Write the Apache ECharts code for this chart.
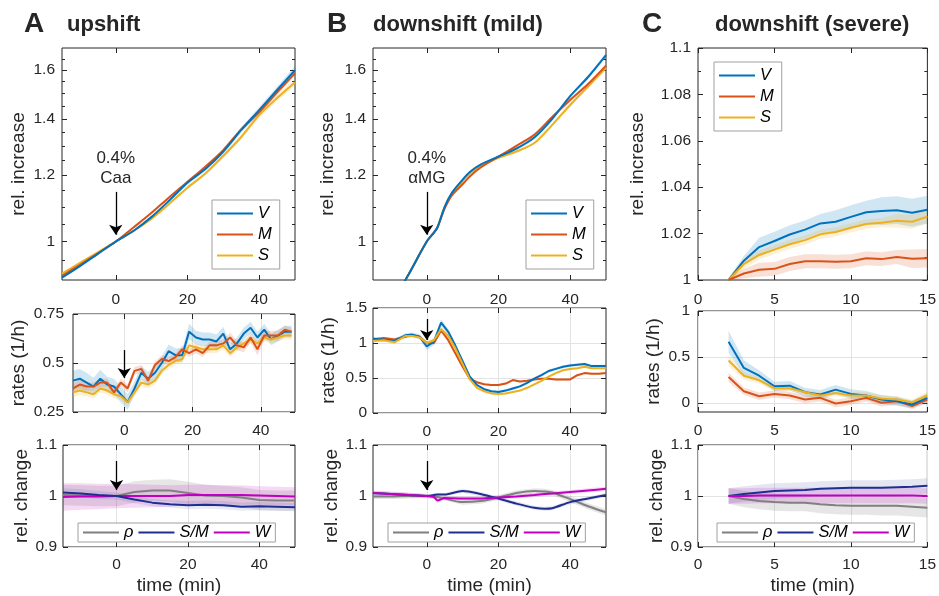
<!DOCTYPE html>
<html><head><meta charset="utf-8">
<script src="https://cdn.jsdelivr.net/npm/echarts/dist/echarts.min.js"></script>
<style>html,body{margin:0;padding:0;background:#fff}#c{width:939px;height:596px}</style>
</head><body><div id="c"></div><script>
const COL = {V:'#0072BD', M:'#D95319', S:'#EDB120', rho:'#808080', SM:'#1F2F8F', W:'#BF00BF'};
const FONT = '"Liberation Sans", Arial, sans-serif';
const TXT = '#262626';

// ---------- Panel A (upshift) ----------
const tA_top = [-15,-10,-5,0,5,10,15,20,25,30,35,40,45,50];
const A_top_V = [0.906,0.935,0.967,1.0,1.03,1.07,1.12,1.175,1.22,1.28,1.358,1.434,1.515,1.60];
const A_top_M = [0.91,0.938,0.968,1.0,1.04,1.082,1.13,1.178,1.228,1.285,1.36,1.425,1.505,1.587];
const A_top_S = [0.916,0.943,0.971,1.0,1.03,1.065,1.11,1.159,1.205,1.265,1.332,1.414,1.482,1.548];
const A_top_Vb = [0.003,0.003,0.002,0.001,0.002,0.003,0.004,0.005,0.006,0.008,0.010,0.012,0.015,0.018];
const A_top_Mb = [0.002,0.002,0.002,0.001,0.002,0.003,0.003,0.004,0.005,0.006,0.008,0.009,0.011,0.012];
const A_top_Sb = [0.003,0.003,0.002,0.001,0.002,0.003,0.004,0.005,0.006,0.008,0.009,0.011,0.013,0.015];

const tA_rate = [-15,-13,-11,-9,-7,-5,-3,-1,1,3,5,7,9,11,13,15,17,19,21,23,25,27,29,31,33,35,37,39,41,43,45,47,49];
const A_rate_V = [0.41,0.42,0.40,0.38,0.42,0.39,0.38,0.34,0.30,0.37,0.45,0.42,0.45,0.50,0.56,0.54,0.54,0.66,0.63,0.62,0.62,0.61,0.65,0.57,0.60,0.65,0.68,0.63,0.67,0.62,0.64,0.66,0.66];
const A_rate_M = [0.37,0.39,0.38,0.38,0.40,0.40,0.35,0.40,0.37,0.46,0.47,0.41,0.49,0.52,0.51,0.53,0.57,0.55,0.57,0.55,0.59,0.59,0.60,0.63,0.59,0.58,0.63,0.57,0.64,0.64,0.64,0.67,0.66];
const A_rate_S = [0.35,0.36,0.35,0.34,0.37,0.36,0.34,0.33,0.30,0.35,0.40,0.39,0.41,0.46,0.49,0.51,0.52,0.59,0.58,0.57,0.57,0.57,0.59,0.55,0.58,0.60,0.62,0.60,0.63,0.62,0.63,0.64,0.64];
const A_rate_Vb = [0.05,0.05,0.05,0.045,0.045,0.04,0.04,0.04,0.04,0.035,0.035,0.035,0.035,0.035,0.035,0.035,0.035,0.04,0.035,0.035,0.035,0.035,0.035,0.03,0.03,0.03,0.03,0.03,0.03,0.03,0.03,0.03,0.03];
const A_rate_Mb = [0.025,0.025,0.02,0.02,0.02,0.02,0.02,0.02,0.02,0.02,0.02,0.02,0.02,0.02,0.02,0.02,0.02,0.02,0.02,0.02,0.02,0.02,0.02,0.025,0.025,0.025,0.025,0.03,0.025,0.025,0.025,0.02,0.02];
const A_rate_Sb = [0.025,0.025,0.02,0.02,0.02,0.02,0.02,0.02,0.02,0.02,0.02,0.02,0.02,0.02,0.02,0.02,0.02,0.02,0.02,0.02,0.02,0.02,0.02,0.02,0.02,0.02,0.02,0.02,0.02,0.02,0.02,0.02,0.02];

const tA_rel = [-15,-10,-5,0,5,10,15,20,25,30,35,40,45,50];
const A_rel_rho = [1.002,1.001,1.0,1.0,1.008,1.011,1.011,1.006,1.001,1.0,0.997,0.992,0.991,0.991];
const A_rel_SM = [1.007,1.005,1.002,1.0,0.993,0.987,0.984,0.982,0.983,0.982,0.979,0.98,0.979,0.978];
const A_rel_W = [0.998,0.999,0.999,1.0,1.0,1.0,1.0,1.002,1.002,1.002,1.002,1.001,1.0,0.999];
const A_rel_rhob = [0.02,0.02,0.02,0.02,0.021,0.021,0.022,0.022,0.021,0.02,0.02,0.02,0.02,0.02];
const A_rel_SMb = [0.008,0.008,0.008,0.007,0.007,0.007,0.007,0.008,0.008,0.008,0.008,0.008,0.008,0.008];
const A_rel_Wb = [0.027,0.026,0.025,0.024,0.023,0.022,0.021,0.02,0.02,0.019,0.019,0.018,0.018,0.018];

// ---------- Panel B (downshift mild) ----------
const tB_top = [-15,-10,-5,0,2,3,5,7,10,12,15,20,25,30,35,40,45,50];
const B_top_V = [0.77,0.84,0.915,1.0,1.025,1.04,1.10,1.143,1.185,1.21,1.235,1.262,1.29,1.33,1.40,1.49,1.57,1.667];
const B_top_M = [0.77,0.84,0.915,1.0,1.025,1.04,1.095,1.135,1.17,1.195,1.225,1.262,1.30,1.34,1.407,1.474,1.54,1.62];
const B_top_S = [0.77,0.84,0.915,1.0,1.025,1.04,1.10,1.14,1.18,1.205,1.23,1.258,1.28,1.31,1.377,1.454,1.53,1.61];
const B_top_Vb = [0.002,0.002,0.002,0.001,0.002,0.002,0.003,0.003,0.004,0.004,0.004,0.005,0.005,0.006,0.007,0.008,0.009,0.010];
const B_top_Mb = [0.002,0.002,0.002,0.001,0.002,0.002,0.003,0.003,0.003,0.003,0.004,0.004,0.005,0.005,0.006,0.006,0.007,0.008];
const B_top_Sb = [0.002,0.002,0.002,0.001,0.002,0.002,0.003,0.003,0.003,0.003,0.004,0.004,0.005,0.005,0.006,0.007,0.008,0.009];

const tB_rate = [-15,-12,-9,-6,-4,-2,0,2,4,6,8,10,12,14,16,18,20,22,24,26,28,30,32,34,36,38,40,42,44,46,48,50];
const B_rate_V = [1.06,1.05,1.03,1.11,1.12,1.09,0.95,1.02,1.29,1.16,0.96,0.74,0.52,0.40,0.34,0.31,0.30,0.32,0.35,0.38,0.43,0.49,0.54,0.60,0.63,0.66,0.68,0.69,0.70,0.67,0.67,0.67];
const B_rate_M = [1.05,1.07,1.05,1.09,1.11,1.09,1.00,1.00,1.18,1.04,0.85,0.66,0.49,0.44,0.41,0.40,0.40,0.42,0.47,0.45,0.46,0.48,0.49,0.49,0.48,0.48,0.48,0.54,0.57,0.56,0.56,0.57];
const B_rate_S = [1.03,1.04,1.01,1.10,1.10,1.08,1.00,1.04,1.20,1.10,0.92,0.70,0.48,0.36,0.31,0.28,0.27,0.28,0.30,0.32,0.36,0.41,0.46,0.52,0.57,0.61,0.63,0.64,0.66,0.64,0.64,0.64];
const B_rate_Vb = [0.03,0.03,0.03,0.03,0.03,0.04,0.05,0.05,0.05,0.04,0.03,0.03,0.02,0.02,0.02,0.02,0.02,0.02,0.02,0.02,0.02,0.02,0.02,0.02,0.02,0.02,0.02,0.02,0.02,0.02,0.02,0.02];
const B_rate_Mb = [0.02,0.02,0.02,0.02,0.02,0.02,0.03,0.03,0.03,0.03,0.02,0.02,0.02,0.015,0.015,0.015,0.015,0.015,0.015,0.015,0.015,0.015,0.015,0.015,0.015,0.015,0.015,0.015,0.015,0.015,0.015,0.015];
const B_rate_Sb = [0.02,0.02,0.02,0.02,0.02,0.02,0.03,0.03,0.03,0.03,0.02,0.02,0.02,0.015,0.015,0.015,0.015,0.015,0.015,0.015,0.015,0.015,0.015,0.015,0.015,0.015,0.015,0.015,0.015,0.015,0.015,0.015];

const tB_rel = [-15,-10,-5,0,2,3,5,10,15,20,25,30,33,35,40,45,50];
const B_rel_rho = [0.999,0.999,1.0,1.0,0.999,0.998,0.995,0.988,0.99,0.997,1.006,1.01,1.009,1.007,0.994,0.98,0.968];
const B_rel_SM = [1.006,1.004,1.002,1.0,1.002,1.003,1.003,1.01,1.004,0.995,0.985,0.977,0.975,0.976,0.988,0.995,1.002];
const B_rel_W = [1.006,1.004,1.002,1.0,0.998,0.991,0.996,0.995,0.995,0.997,0.999,1.002,1.004,1.005,1.008,1.011,1.014];
const B_rel_rhob = [0.005,0.005,0.005,0.004,0.004,0.004,0.004,0.005,0.005,0.005,0.005,0.005,0.005,0.005,0.006,0.006,0.006];
const B_rel_SMb = [0.004,0.004,0.004,0.003,0.003,0.003,0.003,0.004,0.004,0.004,0.004,0.004,0.004,0.004,0.004,0.004,0.004];
const B_rel_Wb = [0.005,0.005,0.005,0.004,0.004,0.004,0.004,0.004,0.004,0.004,0.004,0.004,0.004,0.004,0.004,0.004,0.004];

// ---------- Panel C (downshift severe) ----------
const tC = [2,3,4,5,6,7,8,9,10,11,12,13,14,15];
const C_top_V = [1.0,1.0083,1.0142,1.0168,1.0196,1.0217,1.0244,1.0251,1.0272,1.0292,1.0297,1.0301,1.029,1.0303];
const C_top_M = [1.0,1.0028,1.0044,1.0048,1.0069,1.0081,1.0081,1.0079,1.0081,1.0094,1.009,1.0099,1.0092,1.0094];
const C_top_S = [1.0,1.0069,1.0108,1.0131,1.0154,1.0172,1.0197,1.0207,1.0225,1.0241,1.0247,1.0255,1.0251,1.0273];
const C_top_Vb = [0.001,0.002,0.004,0.004,0.004,0.004,0.004,0.005,0.005,0.005,0.006,0.006,0.006,0.006];
const C_top_Mb = [0.001,0.002,0.003,0.003,0.003,0.003,0.003,0.003,0.003,0.003,0.003,0.003,0.004,0.004];
const C_top_Sb = [0.001,0.002,0.002,0.002,0.002,0.002,0.002,0.002,0.002,0.002,0.002,0.003,0.003,0.003];

const C_rate_V = [0.665,0.38,0.295,0.18,0.187,0.115,0.09,0.144,0.097,0.08,0.036,0.018,-0.018,0.054];
const C_rate_M = [0.28,0.126,0.072,0.097,0.08,0.036,0.054,-0.007,0.018,0.054,0.0,0.018,-0.036,0.036];
const C_rate_S = [0.46,0.295,0.245,0.16,0.158,0.115,0.08,0.108,0.08,0.08,0.047,0.036,0.007,0.08];
const C_rate_Vb = [0.12,0.08,0.06,0.05,0.05,0.05,0.05,0.05,0.05,0.05,0.05,0.05,0.04,0.05];
const C_rate_Mb = [0.05,0.04,0.04,0.04,0.04,0.04,0.04,0.04,0.04,0.04,0.04,0.04,0.03,0.04];
const C_rate_Sb = [0.06,0.04,0.035,0.03,0.03,0.03,0.03,0.035,0.035,0.035,0.035,0.035,0.03,0.04];

const C_rel_rho = [1.0,0.994,0.99,0.988,0.987,0.987,0.984,0.982,0.981,0.981,0.981,0.981,0.979,0.977];
const C_rel_SM = [1.0,1.004,1.007,1.01,1.011,1.012,1.014,1.015,1.016,1.016,1.016,1.017,1.018,1.02];
const C_rel_W = [1.0,1.0,1.001,1.001,1.001,1.001,1.001,1.001,1.001,1.001,1.001,1.001,1.001,1.0];
const C_rel_rhob = [0.015,0.016,0.016,0.017,0.017,0.017,0.018,0.018,0.018,0.018,0.019,0.019,0.019,0.019];
const C_rel_SMb = [0.015,0.015,0.015,0.015,0.015,0.015,0.015,0.015,0.015,0.015,0.015,0.015,0.015,0.015];
const C_rel_Wb = [0.015,0.015,0.015,0.015,0.015,0.015,0.015,0.015,0.015,0.015,0.015,0.015,0.015,0.015];

// tick values
const xTicksAB = [0,20,40];
const yTicksLog = [1,1.2,1.4,1.6];
const yMinorLog = [0.95,1.05,1.1,1.15,1.25,1.3,1.35,1.45,1.5,1.55,1.65];
const yTicksCrate = [0,0.5,1];

// ---------- builders ----------
const grids=[], xAxis=[], yAxis=[], series=[];
const tick = (vals,len)=>Object.assign({show:true, inside:true, length:len, lineStyle:{color:TXT,width:1}}, vals?{customValues:vals}:{});
const labStyle = {color:TXT, fontSize:15.5, fontFamily:FONT};

function addPanel(c){
  const gi = grids.length;
  grids.push({left:c.box[0], top:c.box[1], width:c.box[2], height:c.box[3], show:true, borderColor:TXT, borderWidth:1, backgroundColor:'#fff'});
  const split = {show:!!c.gridLines, lineStyle:{color:'#e3e3e3', width:1}};
  const xm = {type:'value', gridIndex:gi, position:'bottom', min:c.x.min, max:c.x.max,
    axisLine:{show:false,onZero:false}, axisTick:tick(c.x.ticks,5),
    axisLabel:Object.assign({show:true, margin:c.x.margin}, labStyle, c.x.ticks?{customValues:c.x.ticks}:{}),
    splitLine:split, name:c.xname||'', nameLocation:'middle', nameGap:c.xnameGap||30,
    nameTextStyle:{color:TXT, fontSize:19, fontFamily:FONT}};
  if (c.x.interval) xm.interval = c.x.interval;
  const xIdx = xAxis.length;
  xAxis.push(xm);
  xAxis.push(Object.assign({}, xm, {position:'top', axisLabel:{show:false}, splitLine:{show:false}, name:''}));
  const T = c.log ? Math.log : (v=>v);
  const ym = {type:'value', gridIndex:gi, position:'left', min:T(c.y.min), max:T(c.y.max),
    axisLine:{show:false,onZero:false}, axisTick:tick(c.y.ticks?c.y.ticks.map(T):null,5),
    axisLabel:Object.assign({show:true, margin:c.y.margin||7}, labStyle, c.y.ticks?{customValues:c.y.ticks.map(T)}:{}, c.log?{formatter:v=>String(Math.round(Math.exp(v)*100)/100)}:{}),
    splitLine:split, name:c.yname, nameLocation:'middle', nameGap:c.ynameGap, nameRotate:90,
    nameTextStyle:{color:TXT, fontSize:19, fontFamily:FONT}};
  if (c.y.interval) ym.interval = c.y.interval;
  if (c.minorTick) ym.minorTick = {show:true, splitNumber:2, length:3, lineStyle:{color:TXT}};
  const yIdx = yAxis.length;
  yAxis.push(ym);
  yAxis.push(Object.assign({}, ym, {position:'right', axisLabel:{show:false}, splitLine:{show:false}, name:''}));
  if (c.y.minor) {
    const mn = {type:'value', gridIndex:gi, min:T(c.y.min), max:T(c.y.max), axisLine:{show:false,onZero:false},
      axisTick:tick(c.y.minor.map(T),3), axisLabel:{show:false}, splitLine:{show:false}};
    yAxis.push(Object.assign({position:'left'}, mn));
    yAxis.push(Object.assign({position:'right'}, mn));
  }
  return {xIdx, yIdx, T};
}

// confidence band drawn as one polygon through the axes' own coordinate conversion
function addBand(p, color, xs, ys, hw, opacity){
  const T = p.T;
  const rows = xs.map((x,i)=>[x, T(ys[i]-hw[i]), T(ys[i]+hw[i])]);
  series.push({type:'custom', silent:true, xAxisIndex:p.xIdx, yAxisIndex:p.yIdx, z:1,
    encode:{x:0, y:[1,2]}, data:rows,
    renderItem:function(params, api){
      if (params.dataIndex !== 0) return null;
      const pts = [];
      for (let i=0;i<rows.length;i++) pts.push(api.coord([rows[i][0], rows[i][2]]));
      for (let i=rows.length-1;i>=0;i--) pts.push(api.coord([rows[i][0], rows[i][1]]));
      const cs = params.coordSys;
      return {type:'polygon', shape:{points:pts}, style:{fill:color, opacity:opacity, stroke:null},
        clipPath:{type:'rect', shape:{x:cs.x, y:cs.y, width:cs.width, height:cs.height}}};
    }});
}

function addLine(p, name, color, xs, ys, hw, opt){
  opt = opt || {};
  const T = p.T, sm = opt.smooth || false;
  if (hw) addBand(p, color, xs, ys, hw, opt.bandOpacity||0.18);
  const s = {type:'line', name:name, xAxisIndex:p.xIdx, yAxisIndex:p.yIdx, symbol:'none', smooth:sm, z:3,
    lineStyle:{color:color, width:opt.width||2}, itemStyle:{color:color},
    data:xs.map((x,i)=>[x, T(ys[i])])};
  if (opt.markLine) s.markLine = opt.markLine;
  series.push(s);
}

function arrow(x, y1, y2, text){
  return {silent:true, animation:false, symbol:['none','arrow'], symbolSize:10, precision:6,
    lineStyle:{color:'#000', width:1.3, type:'solid'},
    label:{show:!!text, position:'start', formatter:text||'', color:TXT, fontSize:17, lineHeight:20, fontFamily:FONT, distance:4},
    emphasis:{disabled:true},
    data:[[{coord:[x,y1]},{coord:[x,y2]}]]};
}

// ---------- panels ----------
const xAB = {min:-15, max:50, ticks:xTicksAB, margin:12};
const xC = {min:0, max:15, interval:5, margin:12};

// A top
let p = addPanel({box:[62,48,233,232], log:true, x:xAB, y:{min:0.9,max:1.7,ticks:yTicksLog,minor:yMinorLog}, yname:'rel. increase', ynameGap:34});
addLine(p,'S',COL.S,tA_top,A_top_S,A_top_Sb,{smooth:0.3});
addLine(p,'M',COL.M,tA_top,A_top_M,A_top_Mb,{smooth:0.3});
addLine(p,'V',COL.V,tA_top,A_top_V,A_top_Vb,{smooth:0.3, markLine:arrow(0,Math.log(1.146),Math.log(1.019),'0.4%\nCaa')});
// B top
p = addPanel({box:[373,48,233,232], log:true, x:xAB, y:{min:0.9,max:1.7,ticks:yTicksLog,minor:yMinorLog}, yname:'rel. increase', ynameGap:36});
addLine(p,'S',COL.S,tB_top,B_top_S,B_top_Sb,{smooth:0.3});
addLine(p,'M',COL.M,tB_top,B_top_M,B_top_Mb,{smooth:0.3});
addLine(p,'V',COL.V,tB_top,B_top_V,B_top_Vb,{smooth:0.3, markLine:arrow(0,Math.log(1.146),Math.log(1.019),'0.4%\nαMG')});
// C top
p = addPanel({box:[698,48,230,232], x:xC, y:{min:1,max:1.1,interval:0.02}, minorTick:true, yname:'rel. increase', ynameGap:51});
addLine(p,'V',COL.V,tC,C_top_V,C_top_Vb);
addLine(p,'S',COL.S,tC,C_top_S,C_top_Sb);
addLine(p,'M',COL.M,tC,C_top_M,C_top_Mb);

// A mid
p = addPanel({box:[73,314,222,98], gridLines:true, x:Object.assign({},xAB,{margin:11}), y:{min:0.25,max:0.75,interval:0.25,margin:9}, yname:'rates (1/h)', ynameGap:45});
addLine(p,'V',COL.V,tA_rate,A_rate_V,A_rate_Vb);
addLine(p,'S',COL.S,tA_rate,A_rate_S,A_rate_Sb);
addLine(p,'M',COL.M,tA_rate,A_rate_M,A_rate_Mb,{markLine:arrow(0,0.566,0.423,'')});
// B mid
p = addPanel({box:[373,308,233,105], gridLines:true, x:Object.assign({},xAB,{margin:11}), y:{min:0,max:1.5,interval:0.5,margin:6}, yname:'rates (1/h)', ynameGap:35});
addLine(p,'M',COL.M,tB_rate,B_rate_M,B_rate_Mb);
addLine(p,'V',COL.V,tB_rate,B_rate_V,B_rate_Vb);
addLine(p,'S',COL.S,tB_rate,B_rate_S,B_rate_Sb,{markLine:arrow(0,1.343,1.043,'')});
// C mid
p = addPanel({box:[698,311,232,101], gridLines:true, x:Object.assign({},xC,{margin:11}), y:{min:-0.1,max:1,ticks:yTicksCrate,margin:8}, yname:'rates (1/h)', ynameGap:35});
addLine(p,'M',COL.M,tC,C_rate_M,C_rate_Mb);
addLine(p,'V',COL.V,tC,C_rate_V,C_rate_Vb);
addLine(p,'S',COL.S,tC,C_rate_S,C_rate_Sb);

// A bottom
p = addPanel({box:[63,445,232,102], gridLines:true, x:Object.assign({},xAB,{margin:10}), y:{min:0.9,max:1.1,interval:0.1,margin:6}, yname:'rel. change', ynameGap:30, xname:'time (min)', xnameGap:29});
addLine(p,'ρ',COL.rho,tA_rel,A_rel_rho,A_rel_rhob,{bandOpacity:0.2});
addLine(p,'W',COL.W,tA_rel,A_rel_W,A_rel_Wb,{bandOpacity:0.15});
addLine(p,'S/M',COL.SM,tA_rel,A_rel_SM,A_rel_SMb,{bandOpacity:0.1, markLine:arrow(0,1.0686,1.0118,'')});
// B bottom
p = addPanel({box:[373,445,233,102], gridLines:true, x:Object.assign({},xAB,{margin:10}), y:{min:0.9,max:1.1,interval:0.1,margin:6}, yname:'rel. change', ynameGap:30, xname:'time (min)', xnameGap:29});
addLine(p,'ρ',COL.rho,tB_rel,B_rel_rho,B_rel_rhob,{smooth:0.3,bandOpacity:0.2});
addLine(p,'S/M',COL.SM,tB_rel,B_rel_SM,B_rel_SMb,{smooth:0.3,bandOpacity:0.12});
addLine(p,'W',COL.W,tB_rel,B_rel_W,B_rel_Wb,{smooth:0.2,bandOpacity:0.15, markLine:arrow(0,1.0686,1.0118,'')});
// C bottom
p = addPanel({box:[698,445,232,102], gridLines:true, x:Object.assign({},xC,{margin:10}), y:{min:0.9,max:1.1,interval:0.1,margin:6}, yname:'rel. change', ynameGap:30, xname:'time (min)', xnameGap:29});
addLine(p,'ρ',COL.rho,tC,C_rel_rho,C_rel_rhob,{bandOpacity:0.2});
addLine(p,'S/M',COL.SM,tC,C_rel_SM,C_rel_SMb,{bandOpacity:0.12});
addLine(p,'W',COL.W,tC,C_rel_W,C_rel_Wb,{bandOpacity:0.15});

// ---------- legends ----------
const legTop = (l,t)=>({data:['V','M','S'], orient:'vertical', left:l, top:t, padding:[5,8,5,5], icon:'rect', itemWidth:36, itemHeight:2, itemGap:4,
  borderColor:'#a0a0a0', borderWidth:1, backgroundColor:'#fff', selectedMode:false,
  textStyle:{fontStyle:'italic', fontSize:16.5, color:'#000', fontFamily:FONT}});
const legBot = (l,t)=>({data:['ρ','S/M','W'], orient:'horizontal', left:l, top:t, padding:[1,5,1,5], icon:'rect', itemWidth:36, itemHeight:2, itemGap:5,
  borderColor:'#a0a0a0', borderWidth:1, backgroundColor:'#fff', selectedMode:false,
  textStyle:{fontStyle:'italic', fontSize:16.5, color:'#000', fontFamily:FONT}});

const ttl = (text,l,t,fs)=>({text:text, left:l, top:t, padding:0, textStyle:{fontSize:fs, fontWeight:'bold', color:TXT, fontFamily:FONT}});

const chart = echarts.init(document.getElementById('c'), null, {renderer:'canvas'});
chart.setOption({
  animation:false,
  backgroundColor:'#fff',
  title:[ttl('A',24,10,28), ttl('upshift',67,14,22), ttl('B',327,10,28), ttl('downshift (mild)',373,14,22), ttl('C',642,10,28), ttl('downshift (severe)',715,14,22)],
  legend:[legTop(212,200), legTop(526,200), legTop(714,62), legBot(78,523), legBot(388,523), legBot(717,523)],
  grid:grids, xAxis:xAxis, yAxis:yAxis, series:series
});
</script></body></html>
